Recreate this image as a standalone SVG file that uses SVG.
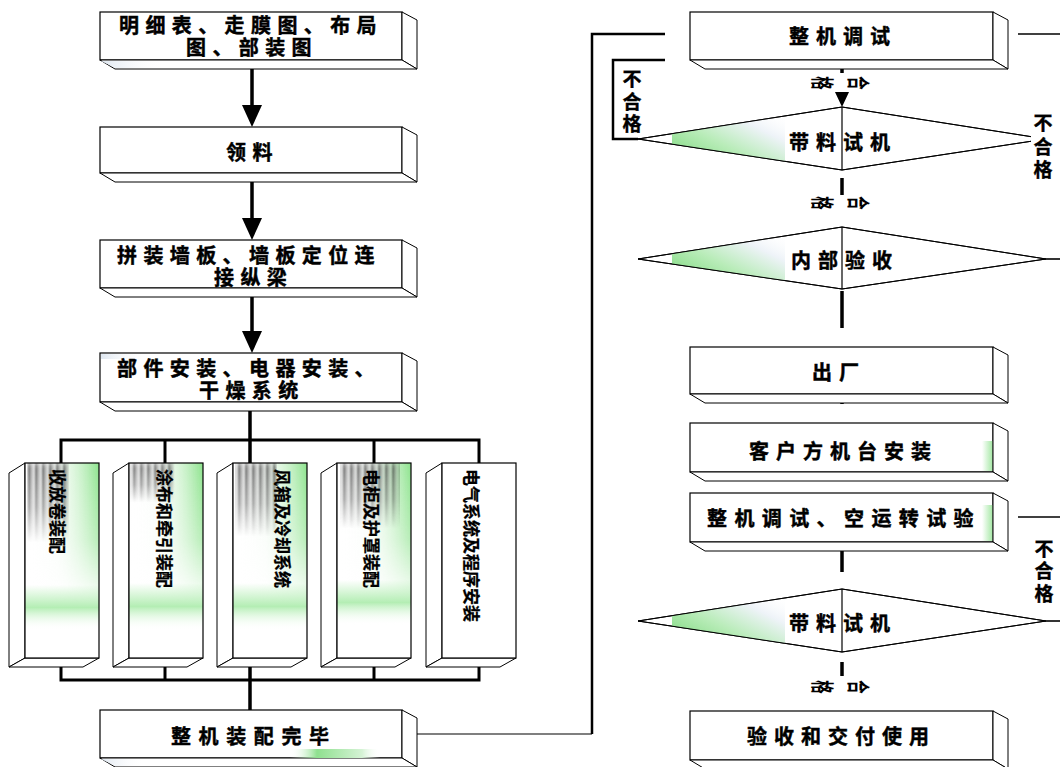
<svg xmlns="http://www.w3.org/2000/svg" width="1060" height="767" viewBox="0 0 1060 767">
<defs>
<style>
.face{fill:#fff;stroke:#000;stroke-width:1.2}
.side{fill:#fff;stroke:#000;stroke-width:1}
.edge{fill:none;stroke:#000;stroke-width:1.2}
.t{font-family:"Noto Sans CJK SC","Noto Sans",sans-serif;font-weight:bold;font-size:20px;dominant-baseline:central;fill:#000;stroke:#000;stroke-width:0.45px}
.tl{letter-spacing:6.4px}
.tr{letter-spacing:7px}
.tv{font-family:"Noto Sans CJK SC","Noto Sans",sans-serif;font-weight:bold;font-size:17px;dominant-baseline:central;fill:#000;stroke:#000;stroke-width:0.25px}
.tn{font-family:"Noto Sans CJK SC","Noto Sans",sans-serif;font-weight:bold;font-size:19px;dominant-baseline:central;text-anchor:middle;fill:#000;stroke:#000;stroke-width:0.4px}
.tq{font-family:"Noto Sans CJK SC","Noto Sans",sans-serif;font-weight:bold;font-size:18px;dominant-baseline:central;text-anchor:middle;fill:#000}
.thick{stroke:#000;stroke-width:3.5;fill:none}
.bus{stroke:#000;stroke-width:3;fill:none}
.loop{stroke:#000;stroke-width:2.5;fill:none}
.thin{stroke:#000;stroke-width:1.2;fill:none}
.mid{stroke:#000;stroke-width:1.6;fill:none}
.dia{fill:#fff;stroke:#000;stroke-width:1}
.head{fill:#000}
</style>
<linearGradient id="gDia" x1="0" y1="1" x2="1" y2="0">
<stop offset="0" stop-color="#6fd46f"/>
<stop offset="0.45" stop-color="#b9ecb9"/>
<stop offset="0.75" stop-color="#eef3f8"/>
<stop offset="1" stop-color="#ffffff" stop-opacity="0"/>
</linearGradient>
<linearGradient id="gVside" x1="0" y1="0" x2="1" y2="0">
<stop offset="0" stop-color="#dbe5ee"/>
<stop offset="1" stop-color="#f5f8fa"/>
</linearGradient>
<linearGradient id="gVgreen" x1="0" y1="0" x2="1" y2="0">
<stop offset="0" stop-color="#ffffff" stop-opacity="0"/>
<stop offset="0.45" stop-color="#e6f7e6" stop-opacity="0.35"/>
<stop offset="1" stop-color="#80e080" stop-opacity="0.95"/>
</linearGradient>
<linearGradient id="gBand" x1="0" y1="0" x2="0" y2="1">
<stop offset="0" stop-color="#9be89b" stop-opacity="0"/>
<stop offset="0.5" stop-color="#9be89b" stop-opacity="0.75"/>
<stop offset="1" stop-color="#ffffff" stop-opacity="0"/>
</linearGradient>
<linearGradient id="gVbot" x1="0" y1="0" x2="1" y2="0">
<stop offset="0" stop-color="#d9f3d9"/>
<stop offset="1" stop-color="#a8eaa8"/>
</linearGradient>
<linearGradient id="gStrip" x1="0" y1="0" x2="1" y2="0">
<stop offset="0" stop-color="#ffffff"/>
<stop offset="1" stop-color="#a6e8a6"/>
</linearGradient>
<linearGradient id="gBlue" x1="0" y1="0" x2="1" y2="0">
<stop offset="0" stop-color="#dfe7f0"/>
<stop offset="1" stop-color="#ffffff" stop-opacity="0"/>
</linearGradient>
<linearGradient id="gBlob" x1="0" y1="0" x2="1" y2="0">
<stop offset="0" stop-color="#ffffff" stop-opacity="0"/>
<stop offset="0.3" stop-color="#8fe08f"/>
<stop offset="0.8" stop-color="#d5f3d5"/>
<stop offset="1" stop-color="#ffffff" stop-opacity="0"/>
</linearGradient>
<linearGradient id="fadeG" x1="0" y1="0" x2="0" y2="1">
<stop offset="0" stop-color="#fff" stop-opacity="0.95"/>
<stop offset="0.55" stop-color="#fff" stop-opacity="0.6"/>
<stop offset="1" stop-color="#fff" stop-opacity="0"/>
</linearGradient>
<mask id="fadeM" maskContentUnits="objectBoundingBox">
<rect width="1" height="1" fill="url(#fadeG)"/>
</mask>
<pattern id="stripes" width="7" height="20" patternUnits="userSpaceOnUse">
<rect x="0" width="2.5" height="20" fill="#2a2a2a"/>
<rect x="3.5" width="1.5" height="20" fill="#777"/>
</pattern>
<filter id="blurV" x="-10%" y="-10%" width="120%" height="120%">
<feGaussianBlur stdDeviation="0.8 3"/>
</filter>
<clipPath id="cD1"><polygon points="842,107 1046,139 842,170 638,139"/></clipPath>
<clipPath id="cD2"><polygon points="842,227 1046,259 842,289 638,259"/></clipPath>
<clipPath id="cD3"><polygon points="842,589 1046,621 842,652 638,621"/></clipPath>
</defs>

<g id="connectors">
<line class="thick" x1="252" y1="60" x2="252" y2="107"/>
<polygon class="head" points="242,105 262,105 252,127"/>
<line class="thick" x1="252" y1="173" x2="252" y2="220"/>
<polygon class="head" points="242,218 262,218 252,240"/>
<line class="thick" x1="252" y1="288" x2="252" y2="333"/>
<polygon class="head" points="242,331 262,331 252,353"/>
<line class="thick" x1="250" y1="402" x2="250" y2="463"/>
<path class="bus" d="M61,463 V440 H479 V463"/>
<line class="bus" x1="165" y1="440" x2="165" y2="463"/>
<line class="bus" x1="374" y1="440" x2="374" y2="463"/>
<path class="bus" d="M61,658 V680 H479 V658"/>
<line class="bus" x1="165" y1="658" x2="165" y2="680"/>
<line class="bus" x1="374" y1="658" x2="374" y2="680"/>
<line class="thick" x1="250" y1="658" x2="250" y2="710"/>
<line class="thin" x1="402" y1="734" x2="592" y2="734"/>
<path class="loop" d="M592,734 V34 H665"/>
<path class="loop" d="M665,60 H613 V139 H638"/>
<line class="mid" x1="1018" y1="34" x2="1060" y2="34"/>
<line class="mid" x1="1046" y1="259" x2="1060" y2="259"/>
<line class="mid" x1="1018" y1="517" x2="1060" y2="517"/>
<line class="mid" x1="1046" y1="621" x2="1060" y2="621"/>
<line class="thick" x1="842" y1="60" x2="842" y2="73"/>
<polygon class="head" points="835,92 849,92 842,107"/>
<line class="thick" x1="842" y1="178" x2="842" y2="195"/>
<line class="thick" x1="842" y1="291" x2="842" y2="328"/>
<line class="thick" x1="842" y1="394" x2="842" y2="404"/>
<line class="thick" x1="842" y1="472" x2="842" y2="478"/>
<line class="thick" x1="842" y1="542" x2="842" y2="572"/>
<line class="thick" x1="842" y1="662" x2="842" y2="676"/>
</g>

<g id="n-drawings">
<rect class="face" x="100" y="12" width="302" height="48"/>
<polygon class="side" points="402,12 417,20 417,69 402,60"/>
<polygon class="side" points="100,60 115,69 417,69 402,60"/>
<polygon points="101,61 115,68 165,68 165,61" fill="url(#gBlue)"/>
<text class="t tl" x="119" y="24">明细表、走膜图、布局</text>
<text class="t tl" x="186" y="46">图、部装图</text>
</g>

<g id="n-material">
<rect class="face" x="100" y="127" width="302" height="46"/>
<polygon class="side" points="402,127 417,135 417,182 402,173"/>
<polygon class="side" points="100,173 115,182 417,182 402,173"/>
<text class="t tl" x="226" y="151">领料</text>
</g>

<g id="n-walls">
<rect class="face" x="100" y="240" width="302" height="48"/>
<polygon class="side" points="402,240 417,248 417,297 402,288"/>
<polygon class="side" points="100,288 115,297 417,297 402,288"/>
<text class="t tl" x="117" y="254">拼装墙板、墙板定位连</text>
<text class="t tl" x="214" y="276">接纵梁</text>
</g>

<g id="n-parts">
<rect class="face" x="100" y="353" width="302" height="49"/>
<polygon class="side" points="402,353 417,361 417,411 402,402"/>
<polygon class="side" points="100,402 115,411 417,411 402,402"/>
<polygon points="101,354 145,354 145,359 101,359" fill="url(#gBlue)"/>
<text class="t tl" x="117" y="367">部件安装、电器安装、</text>
<text class="t tl" x="199" y="389">干燥系统</text>
</g>

<g id="n-winding">
<polygon class="side" points="25,463 9,473 9,667 25,658" fill="url(#gVside)"/>
<polygon class="side" points="9,667 83,667 99,658 25,658" fill="url(#gVbot)"/>
<rect x="25" y="463" width="74" height="195" fill="#fff"/>
<rect x="25" y="463" width="74" height="140" fill="url(#gVgreen)" mask="url(#fadeM)"/>
<rect x="25" y="585" width="74" height="45" fill="url(#gBand)"/>
<rect x="27" y="463" width="42" height="80" fill="url(#stripes)" mask="url(#fadeM)" filter="url(#blurV)" opacity="0.85"/>
<rect class="edge" x="25" y="463" width="74" height="195"/>
<text class="tv" transform="translate(58,469) rotate(90)">收放卷装配</text>
</g>

<g id="n-coating">
<polygon class="side" points="129,463 113,473 113,667 129,658" fill="url(#gVside)"/>
<polygon class="side" points="113,667 187,667 203,658 129,658" fill="url(#gVbot)"/>
<rect x="129" y="463" width="74" height="195" fill="#fff"/>
<rect x="129" y="463" width="74" height="140" fill="url(#gVgreen)" mask="url(#fadeM)"/>
<rect x="129" y="583" width="74" height="47" fill="url(#gBand)"/>
<rect x="130" y="463" width="45" height="40" fill="url(#stripes)" mask="url(#fadeM)" filter="url(#blurV)" opacity="0.85"/>
<rect class="edge" x="129" y="463" width="74" height="195"/>
<text class="tv" transform="translate(165,469) rotate(90)">涂布和牵引装配</text>
</g>

<g id="n-fan">
<polygon class="side" points="233,463 217,473 217,667 233,658" fill="url(#gVside)"/>
<polygon class="side" points="217,667 291,667 307,658 233,658" fill="url(#gVbot)"/>
<rect x="233" y="463" width="74" height="195" fill="#fff"/>
<rect x="233" y="463" width="74" height="140" fill="url(#gVgreen)" mask="url(#fadeM)"/>
<rect x="233" y="583" width="74" height="47" fill="url(#gBand)"/>
<rect x="235" y="463" width="42" height="74" fill="url(#stripes)" mask="url(#fadeM)" filter="url(#blurV)" opacity="0.85"/>
<rect class="edge" x="233" y="463" width="74" height="195"/>
<text class="tv" transform="translate(283,469) rotate(90)">风箱及冷却系统</text>
</g>

<g id="n-cabinet">
<polygon class="side" points="337,463 321,473 321,667 337,658" fill="url(#gVside)"/>
<polygon class="side" points="321,667 395,667 411,658 337,658" fill="url(#gVbot)"/>
<rect x="337" y="463" width="74" height="195" fill="#fff"/>
<rect x="337" y="463" width="74" height="140" fill="url(#gVgreen)" mask="url(#fadeM)"/>
<rect x="337" y="580" width="74" height="45" fill="url(#gBand)"/>
<rect x="340" y="463" width="60" height="66" fill="url(#stripes)" mask="url(#fadeM)" filter="url(#blurV)" opacity="0.85"/>
<rect class="edge" x="337" y="463" width="74" height="195"/>
<text class="tv" transform="translate(372,469) rotate(90)">电柜及护罩装配</text>
</g>

<g id="n-electric">
<polygon class="side" points="442,463 426,473 426,667 442,658" fill="url(#gVside)"/>
<polygon class="side" points="426,667 500,667 516,658 442,658"/>
<rect class="face" x="442" y="463" width="74" height="195"/>
<text class="tv" transform="translate(472,469) rotate(90)">电气系统及程序安装</text>
</g>

<g id="n-assembled">
<rect class="face" x="100" y="710" width="302" height="48"/>
<polygon class="side" points="402,710 417,718 417,767 402,758"/>
<polygon class="side" points="100,758 115,767 417,767 402,758"/>
<rect x="290" y="749" width="90" height="9" fill="url(#gBlob)"/>
<polygon points="101,759 115,766 145,766 145,759" fill="url(#gBlue)"/>
<text class="t tl" x="171" y="735" style="letter-spacing:7.6px">整机装配完毕</text>
</g>

<g id="n-debug">
<rect class="face" x="690" y="12" width="303" height="48"/>
<polygon class="side" points="993,12 1008,20 1008,69 993,60"/>
<polygon class="side" points="690,60 705,69 1008,69 993,60"/>
<text class="t tr" x="789" y="35">整机调试</text>
</g>

<g id="n-trial1">
<polygon class="dia" points="842,107 1046,139 842,170 638,139"/>
<rect x="672" y="113" width="113" height="57" fill="url(#gDia)" clip-path="url(#cD1)"/>
<polygon class="edge" points="842,107 1046,139 842,170 638,139" style="stroke-width:1"/>
<line class="thin" x1="842" y1="107" x2="842" y2="170"/>
<text class="t tr" x="789" y="141">带料试机</text>
</g>

<g id="n-inspect">
<polygon class="dia" points="842,227 1046,259 842,289 638,259"/>
<rect x="672" y="233" width="113" height="56" fill="url(#gDia)" clip-path="url(#cD2)"/>
<polygon class="edge" points="842,227 1046,259 842,289 638,259" style="stroke-width:1"/>
<line class="thin" x1="842" y1="227" x2="842" y2="289"/>
<text class="t tr" x="791" y="259">内部验收</text>
</g>

<g id="n-ship">
<rect class="face" x="690" y="347" width="303" height="47"/>
<polygon class="side" points="993,347 1008,355 1008,403 993,394"/>
<polygon class="side" points="690,394 705,403 1008,403 993,394"/>
<text class="t tr" x="812" y="371">出厂</text>
</g>

<g id="n-install">
<rect class="face" x="690" y="423" width="303" height="49"/>
<rect x="982" y="441" width="10.5" height="30" fill="url(#gStrip)"/>
<polygon class="side" points="993,423 1008,431 1008,481 993,472"/>
<polygon class="side" points="690,472 705,481 1008,481 993,472"/>
<text class="t tr" x="749" y="450">客户方机台安装</text>
</g>

<g id="n-idle">
<rect class="face" x="690" y="493" width="303" height="49"/>
<rect x="982" y="505" width="10.5" height="36" fill="url(#gStrip)"/>
<polygon class="side" points="993,493 1008,501 1008,551 993,542"/>
<polygon class="side" points="690,542 705,551 1008,551 993,542"/>
<text class="t tr" x="707" y="517" style="letter-spacing:7.4px">整机调试、空运转试验</text>
</g>

<g id="n-trial2">
<polygon class="dia" points="842,589 1046,621 842,652 638,621"/>
<rect x="672" y="595" width="113" height="57" fill="url(#gDia)" clip-path="url(#cD3)"/>
<polygon class="edge" points="842,589 1046,621 842,652 638,621" style="stroke-width:1"/>
<line class="thin" x1="842" y1="589" x2="842" y2="652"/>
<text class="t tr" x="789" y="622">带料试机</text>
</g>

<g id="n-deliver">
<rect class="face" x="690" y="711" width="303" height="49"/>
<polygon class="side" points="993,711 1008,719 1008,769 993,760"/>
<polygon class="side" points="690,760 705,769 1008,769 993,760"/>
<text class="t tr" x="747" y="735">验收和交付使用</text>
</g>

<g id="labels">
<rect x="816" y="74" width="52" height="17" fill="#fff"/>
<text class="tq" transform="translate(860,83) scale(1.25,0.75) rotate(90)">合</text>
<text class="tq" transform="translate(824,83) scale(1.25,0.75) rotate(90)">格</text>
<text class="tq" transform="translate(860,203) scale(1.25,0.75) rotate(90)">合</text>
<text class="tq" transform="translate(824,203) scale(1.25,0.75) rotate(90)">格</text>
<text class="tq" transform="translate(860,687) scale(1.25,0.75) rotate(90)">合</text>
<text class="tq" transform="translate(824,687) scale(1.25,0.75) rotate(90)">格</text>
<text class="tn" x="632" y="77">不</text>
<text class="tn" x="632" y="100">合</text>
<text class="tn" x="632" y="122">格</text>
<rect x="1031" y="108" width="29" height="72" fill="#fff"/>
<text class="tn" x="1043" y="121">不</text>
<text class="tn" x="1043" y="145">合</text>
<text class="tn" x="1043" y="168">格</text>
<text class="tn" x="1044" y="547">不</text>
<text class="tn" x="1044" y="569">合</text>
<text class="tn" x="1044" y="592">格</text>
</g>
</svg>
